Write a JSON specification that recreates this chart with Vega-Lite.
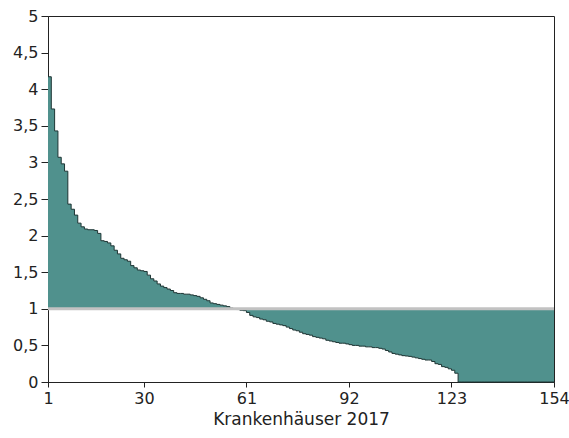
{
  "$schema": "https://vega.github.io/schema/vega-lite/v6.json",
  "width": 506,
  "height": 366,
  "autosize": {"type": "none"},
  "padding": {"left": 48, "top": 16, "right": 15, "bottom": 56},
  "config": {
    "view": {"stroke": "#222", "strokeWidth": 1},
    "axis": {"labelFont": "DejaVu Sans", "titleFont": "DejaVu Sans", "labelFontSize": 16, "titleFontSize": 17, "labelColor": "#222", "titleColor": "#222", "domainColor": "#222", "tickColor": "#222", "grid": false, "titleFontWeight": "normal", "labelFlush": false}
  },
  "datasets": {"h": [
    {"k":1,"v":4.17},{"k":2,"v":3.73},{"k":3,"v":3.43},{"k":4,"v":3.07},{"k":5,"v":2.98},{"k":6,"v":2.88},{"k":7,"v":2.43},{"k":8,"v":2.36},{"k":9,"v":2.28},{"k":10,"v":2.17},
    {"k":11,"v":2.12},{"k":12,"v":2.09},{"k":13,"v":2.08},{"k":14,"v":2.08},{"k":15,"v":2.07},{"k":16,"v":2.03},{"k":17,"v":1.93},{"k":18,"v":1.92},{"k":19,"v":1.9},{"k":20,"v":1.86},
    {"k":21,"v":1.8},{"k":22,"v":1.75},{"k":23,"v":1.69},{"k":24,"v":1.67},{"k":25,"v":1.65},{"k":26,"v":1.59},{"k":27,"v":1.56},{"k":28,"v":1.53},{"k":29,"v":1.52},{"k":30,"v":1.51},
    {"k":31,"v":1.46},{"k":32,"v":1.41},{"k":33,"v":1.38},{"k":34,"v":1.34},{"k":35,"v":1.31},{"k":36,"v":1.29},{"k":37,"v":1.27},{"k":38,"v":1.25},{"k":39,"v":1.22},{"k":40,"v":1.21},
    {"k":41,"v":1.21},{"k":42,"v":1.2},{"k":43,"v":1.2},{"k":44,"v":1.19},{"k":45,"v":1.18},{"k":46,"v":1.17},{"k":47,"v":1.15},{"k":48,"v":1.13},{"k":49,"v":1.11},{"k":50,"v":1.08},
    {"k":51,"v":1.07},{"k":52,"v":1.06},{"k":53,"v":1.05},{"k":54,"v":1.04},{"k":55,"v":1.03},{"k":56,"v":1.01},{"k":57,"v":1.0},{"k":58,"v":0.99},{"k":59,"v":0.98},{"k":60,"v":0.975},
    {"k":61,"v":0.95},{"k":62,"v":0.91},{"k":63,"v":0.89},{"k":64,"v":0.88},{"k":65,"v":0.86},{"k":66,"v":0.85},{"k":67,"v":0.83},{"k":68,"v":0.82},{"k":69,"v":0.8},{"k":70,"v":0.79},
    {"k":71,"v":0.78},{"k":72,"v":0.77},{"k":73,"v":0.75},{"k":74,"v":0.73},{"k":75,"v":0.71},{"k":76,"v":0.7},{"k":77,"v":0.68},{"k":78,"v":0.66},{"k":79,"v":0.65},{"k":80,"v":0.64},
    {"k":81,"v":0.62},{"k":82,"v":0.61},{"k":83,"v":0.6},{"k":84,"v":0.59},{"k":85,"v":0.57},{"k":86,"v":0.56},{"k":87,"v":0.55},{"k":88,"v":0.54},{"k":89,"v":0.53},{"k":90,"v":0.53},
    {"k":91,"v":0.52},{"k":92,"v":0.51},{"k":93,"v":0.5},{"k":94,"v":0.5},{"k":95,"v":0.49},{"k":96,"v":0.49},{"k":97,"v":0.48},{"k":98,"v":0.48},{"k":99,"v":0.47},{"k":100,"v":0.47},
    {"k":101,"v":0.46},{"k":102,"v":0.45},{"k":103,"v":0.43},{"k":104,"v":0.41},{"k":105,"v":0.39},{"k":106,"v":0.38},{"k":107,"v":0.37},{"k":108,"v":0.36},{"k":109,"v":0.355},{"k":110,"v":0.35},
    {"k":111,"v":0.34},{"k":112,"v":0.33},{"k":113,"v":0.32},{"k":114,"v":0.31},{"k":115,"v":0.3},{"k":116,"v":0.3},{"k":117,"v":0.28},{"k":118,"v":0.25},{"k":119,"v":0.24},{"k":120,"v":0.21},
    {"k":121,"v":0.2},{"k":122,"v":0.18},{"k":123,"v":0.16},{"k":124,"v":0.12},{"k":125,"v":0},{"k":126,"v":0},{"k":127,"v":0},{"k":128,"v":0},{"k":129,"v":0},{"k":130,"v":0},
    {"k":131,"v":0},{"k":132,"v":0},{"k":133,"v":0},{"k":134,"v":0},{"k":135,"v":0},{"k":136,"v":0},{"k":137,"v":0},{"k":138,"v":0},{"k":139,"v":0},{"k":140,"v":0},
    {"k":141,"v":0},{"k":142,"v":0},{"k":143,"v":0},{"k":144,"v":0},{"k":145,"v":0},{"k":146,"v":0},{"k":147,"v":0},{"k":148,"v":0},{"k":149,"v":0},{"k":150,"v":0},
    {"k":151,"v":0},{"k":152,"v":0},{"k":153,"v":0},{"k":154,"v":0}
  ]},
  "layer": [
    {
      "data": {"name": "h"},
      "mark": {"type": "area", "interpolate": "step-after", "color": "#50918d", "opacity": 1},
      "encoding": {
        "x": {"field": "k", "type": "quantitative", "scale": {"domain": [1, 154], "nice": false, "zero": false},
          "axis": {"values": [1, 30, 61, 92, 123, 154], "title": "Krankenhäuser 2017", "tickSize": 5, "labelPadding": 3, "titlePadding": 5}},
        "y": {"field": "v", "type": "quantitative", "scale": {"domain": [0, 5], "nice": false},
          "axis": {"values": [0, 0.5, 1, 1.5, 2, 2.5, 3, 3.5, 4, 4.5, 5], "title": null, "tickSize": 7, "labelPadding": 3,
            "labelExpr": "replace(format(datum.value, '~g'), '.', ',')"}},
        "y2": {"datum": 1}
      }
    },
    {
      "data": {"name": "h"},
      "mark": {"type": "line", "interpolate": "step-after", "color": "#1e3534", "strokeWidth": 1},
      "encoding": {
        "x": {"field": "k", "type": "quantitative",
          "axis": {"values": [1, 30, 61, 92, 123, 154], "title": "Krankenhäuser 2017", "tickSize": 5, "labelPadding": 3, "titlePadding": 5}},
        "y": {"field": "v", "type": "quantitative",
          "axis": {"values": [0, 0.5, 1, 1.5, 2, 2.5, 3, 3.5, 4, 4.5, 5], "title": null, "tickSize": 7, "labelPadding": 3,
            "labelExpr": "replace(format(datum.value, '~g'), '.', ',')"}}
      }
    },
    {
      "data": {"values": [{"r": 1}]},
      "mark": {"type": "rule", "color": "#c2c2c2", "strokeWidth": 3},
      "encoding": {"y": {"field": "r", "type": "quantitative",
          "axis": {"values": [0, 0.5, 1, 1.5, 2, 2.5, 3, 3.5, 4, 4.5, 5], "title": null, "tickSize": 7, "labelPadding": 3,
            "labelExpr": "replace(format(datum.value, '~g'), '.', ',')"}}}
    }
  ]
}
